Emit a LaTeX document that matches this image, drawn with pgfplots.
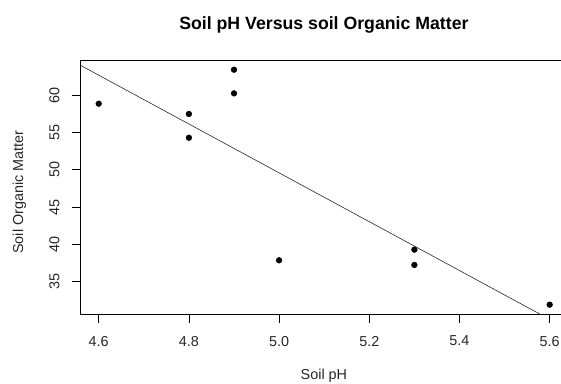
\documentclass[border=0pt]{standalone}
\usepackage{pgfplots}
\pgfplotsset{compat=1.18}
\usepackage{fontspec}
\setmainfont{Liberation Sans}
\begin{document}
\begin{tikzpicture}[x=1pt,y=1pt]
\useasboundingbox (0,0) rectangle (561,383);
\clip (0,0) rectangle (561,383);
\begin{axis}[
  at={(80pt,69pt)}, anchor=south west,
  scale only axis, width=487.7pt, height=254pt,
  xmin=4.5585, xmax=5.64, ymin=30.67, ymax=64.69,
  axis line style={line width=0.8pt},
  xtick={4.6,4.8,5.0,5.2,5.4,5.6},
  ytick={35,40,45,50,55,60},
  xtick pos=bottom, ytick pos=left,
  tick align=outside, major tick length=8.5pt,
  tick style={line width=0.8pt, black},
  /pgf/number format/assume math mode=true,
  xticklabel={\pgfmathprintnumber[fixed,fixed zerofill,precision=1]{\tick}},
  ticklabel style={font=\fontsize{14.4}{16}\selectfont, text=black!85},
  xticklabel style={yshift=-10pt},
  yticklabel style={xshift=-8.5pt, rotate=90, anchor=south},
  clip=true,
]
\addplot[only marks, mark=*, mark size=2.9pt, black] coordinates {
  (4.6,58.84) (4.8,57.46) (4.8,54.28) (4.9,63.39) (4.9,60.22)
  (5.0,37.86) (5.3,39.29) (5.3,37.24) (5.6,31.92)
};
\addplot[black!85, line width=0.6pt] coordinates {(4.5,65.93) (5.7,26.68)};
\end{axis}
\node[font=\fontsize{17.7}{20}\selectfont\bfseries] at (323.9,358.5) {Soil pH Versus soil Organic Matter};
\node[font=\fontsize{14.4}{16}\selectfont, text=black!85, anchor=base, inner sep=0pt] at (323.9,3.5) {Soil pH};
\node[font=\fontsize{14.4}{16}\selectfont, text=black!85, rotate=90] at (19.5,191) {Soil Organic Matter};
\end{tikzpicture}
\end{document}
